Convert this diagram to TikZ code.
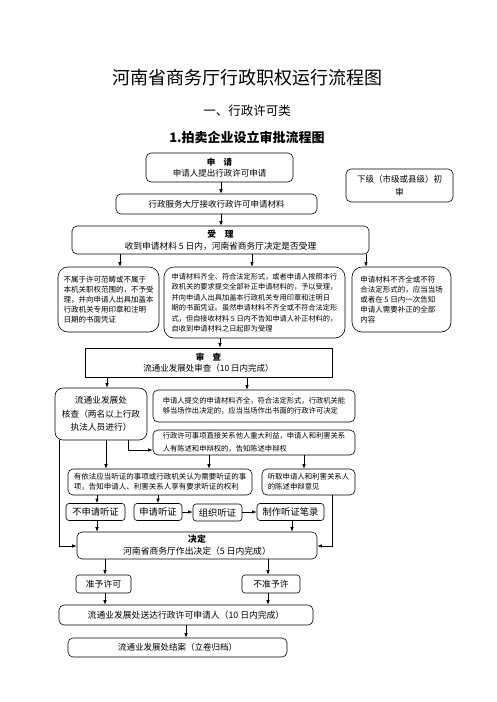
\documentclass[tikz,border=0pt]{standalone}
\usepackage{fontspec}
\setmainfont{Noto Sans CJK SC}
\usetikzlibrary{arrows.meta}
\tikzset{
  fs/.style 2 args={font=\fontsize{#1}{#2}\selectfont},
  box/.style={draw, line width=0.6pt, rounded corners=5pt, inner sep=0pt, align=center},
  rbox/.style={box, rounded corners=10pt},
  sbox/.style={draw, line width=0.6pt, inner sep=0pt, align=center},
  arr/.style={line width=0.6pt, -{Latex[length=4.5pt,width=3.5pt]}},
  ln/.style={line width=0.6pt}
}
\begin{document}
\begin{tikzpicture}[x=1pt,y=-1pt]
\useasboundingbox (0,0) rectangle (496,702);
% titles
\node[fs={18}{20}] (title) at (247,78) {河南省商务厅行政职权运行流程图};
\node[fs={12.5}{14}] (sub) at (247,111) {一、行政许可类};
\node[fs={13}{15}, font=\fontsize{13}{15}\selectfont\bfseries] (head) at (247,137) {1.拍卖企业设立审批流程图};
% boxes
\node[box, fs={8.5}{11}, minimum width=147pt, minimum height=29pt] (apply) at (219.5,167.5) {\textbf{申\quad 请}\\申请人提出行政许可申请};
\node[box, fs={8.5}{13}, minimum width=107pt, minimum height=33pt] (lower) at (399.5,185.5) {下级（市级或县级）初\\审};
\node[box, fs={8.5}{11}, minimum width=201pt, minimum height=20pt] (hall) at (216.5,204) {行政服务大厅接收行政许可申请材料};
\node[box, fs={8.7}{12}, minimum width=297pt, minimum height=28pt] (accept) at (220.5,240) {\textbf{受\quad 理}\\收到申请材料 5 日内，河南省商务厅决定是否受理};
\node[rbox, fs={7.5}{10}, align=left, minimum width=101pt, minimum height=65pt] (A) at (108.5,299.5) {不属于许可范畴或不属于\\本机关职权范围的，不予受\\理，并向申请人出具加盖本\\行政机关专用印章和注明\\日期的书面凭证};
\node[rbox, fs={7.2}{10.5}, align=left, minimum width=181pt, minimum height=71pt] (B) at (254.5,302.5) {申请材料齐全、符合法定形式，或者申请人按照本行\\政机关的要求提交全部补正申请材料的，予以受理，\\并向申请人出具加盖本行政机关专用印章和注明日\\期的书面凭证。虽然申请材料不齐全或不符合法定形\\式，但自接收材料 5 日内不告知申请人补正材料的，\\自收到申请材料之日起即为受理};
\node[rbox, fs={7.5}{10}, align=left, minimum width=99pt, minimum height=65pt] (C) at (401.5,299.5) {申请材料不齐全或不符\\合法定形式的，应当当场\\或者在 5 日内一次告知\\申请人需要补正的全部\\内容};
\node[sbox, fs={8.5}{11}, minimum width=247pt, minimum height=29pt] (review) at (208.5,362.5) {\textbf{审\quad 查}\\流通业发展处审查（10 日内完成）};
\node[box, rounded corners=8pt, fs={8.7}{13.5}, minimum width=92pt, minimum height=52pt] (check) at (101,414) {流通业发展处\\核查（两名以上行政\\执法人员进行）};
\node[box, fs={7.3}{10.5}, align=left, minimum width=202pt, minimum height=32pt] (onsite) at (254,406) {申请人提交的申请材料齐全，符合法定形式，行政机关能\\够当场作出决定的，应当当场作出书面的行政许可决定};
\node[box, fs={7.3}{13}, align=left, minimum width=202pt, minimum height=25pt] (inform) at (254,442.5) {行政许可事项直接关系他人重大利益，申请人和利害关系\\人有陈述和申辩权的，告知陈述申辩权};
\node[box, fs={7.5}{9.8}, align=left, minimum width=184pt, minimum height=26pt] (hearing) at (160,482) {有依法应当听证的事项或行政机关认为需要听证的事\\项，告知申请人、利害关系人享有要求听证的权利};
\node[box, fs={7.4}{10}, align=left, minimum width=93pt, minimum height=26pt] (listen) at (308.5,482) {听取申请人和利害关系人\\的陈述申辩意见};
\node[box, rounded corners=3pt, fs={9.3}{11}, minimum width=59pt, minimum height=17pt] (nohear) at (95.5,512) {不申请听证};
\node[box, rounded corners=3pt, fs={9.3}{11}, minimum width=48pt, minimum height=17pt] (reqhear) at (158,512) {申请听证};
\node[box, rounded corners=3pt, fs={9.3}{11}, minimum width=49pt, minimum height=17pt] (org) at (217.5,512.5) {组织听证};
\node[box, rounded corners=3pt, fs={9.3}{11}, minimum width=67pt, minimum height=17pt] (record) at (290.5,512) {制作听证笔录};
\node[box, fs={8.8}{12}, minimum width=240pt, minimum height=27pt] (decide) at (197,545.5) {\textbf{决定}\\河南省商务厅作出决定（5 日内完成）};
\node[box, rounded corners=3pt, fs={8.8}{11}, minimum width=55pt, minimum height=18pt] (grant) at (103.5,584) {准予许可};
\node[box, rounded corners=3pt, fs={8.8}{11}, minimum width=58pt, minimum height=18pt] (deny) at (271,584) {不准予许};
\node[box, fs={8.8}{11}, minimum width=254pt, minimum height=20pt] (deliver) at (186,615) {流通业发展处送达行政许可申请人（10 日内完成）};
\node[box, fs={8.5}{11}, minimum width=219pt, minimum height=19pt] (close) at (177.5,647.5) {流通业发展处结案（立卷归档）};
% helper coordinates
\coordinate (x221) at (221,0);
\coordinate (x120) at (120,0);
\coordinate (x252) at (252,0);
\coordinate (x366) at (366,0);
\coordinate (x220) at (220,0);
\coordinate (x107) at (107,0);
\coordinate (x247) at (247,0);
\coordinate (k1) at (128,450);
\coordinate (x106) at (106,0);
\coordinate (x209) at (209,0);
\coordinate (x304) at (304,0);
\coordinate (k2) at (59,546);
\coordinate (x97) at (97,0);
\coordinate (x158) at (158,0);
\coordinate (x292) at (292,0);
\coordinate (k3) at (332,546);
\coordinate (x105) at (105,0);
\coordinate (x268) at (268,0);
\coordinate (x186) at (186,0);
% connectors
\draw[arr] (apply.south -| x221) -- (hall.north -| x221);
\draw[arr] (hall.south -| x221) -- (accept.north -| x221);
\draw[arr] (accept.south -| x120) -- (A.north -| x120);
\draw[arr] (accept.south -| x252) -- (B.north -| x252);
\draw[arr] (accept.south -| x366) -- (C.north -| x366);
\draw[arr] (B.south -| x220) -- (review.north -| x220);
\draw[arr] (review.south -| x107) -- (check.north -| x107);
\draw[arr] (review.south -| x247) -- (onsite.north -| x247);
\draw[arr] (check.south -| k1) |- (inform.west |- k1);
\draw[arr] (check.south -| x106) -- (hearing.north -| x106);
\draw[arr] (inform.south -| x209) -- (hearing.north -| x209);
\draw[arr] (inform.south -| x304) -- (listen.north -| x304);
\draw[arr] (check.south -| k2) |- (decide.west |- k2);
\draw[arr] (hearing.south -| x97) -- (nohear.north -| x97);
\draw[arr] (hearing.south -| x158) -- (reqhear.north -| x158);
\draw[arr] (reqhear.east) -- (org.west |- reqhear.east);
\draw[arr] (org.east |- record.west) -- (record.west);
\draw[arr] (nohear.south -| x97) -- (decide.north -| x97);
\draw[arr] (record.south -| x292) -- (decide.north -| x292);
\draw[arr] (listen.south -| k3) |- (decide.east |- k3);
\draw[arr] (decide.south -| x105) -- (grant.north -| x105);
\draw[arr] (decide.south -| x268) -- (deny.north -| x268);
\draw[arr] (grant.south -| x105) -- (deliver.north -| x105);
\draw[arr] (deny.south -| x268) -- (deliver.north -| x268);
\draw[arr] (deliver.south -| x186) -- (close.north -| x186);
\end{tikzpicture}
\end{document}
